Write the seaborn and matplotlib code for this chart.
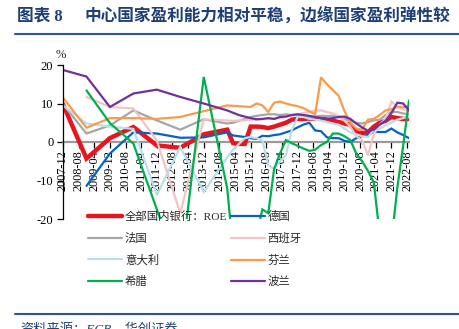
import numpy as np
import pandas as pd
import matplotlib
matplotlib.use("Agg")
import matplotlib.pyplot as plt
import seaborn as sns
from matplotlib.lines import Line2D

# Reporting dates: annual to 2014, quarterly afterwards
annual_periods = ["2007-12", "2008-12", "2009-12", "2010-12", "2011-12",
                  "2012-12", "2013-12", "2014-12"]
quarterly_periods = [f"{y}-{m:02d}" for y in range(2015, 2023) for m in (3, 6, 9, 12)][:31]
periods = annual_periods + quarterly_periods

tick_labels = ["2007-12", "2008-08", "2009-04", "2009-12", "2010-08", "2011-04",
               "2011-12", "2012-08", "2013-04", "2013-12", "2014-08", "2015-04",
               "2015-12", "2016-08", "2017-04", "2017-12", "2018-08", "2019-04",
               "2019-12", "2020-08", "2021-04", "2021-12", "2022-08"]

nan = np.nan
roe_all = [9.8, -4.3, 1.0, 3.9, -0.9, -1.5, 2.0, 3.2,
           -0.3, -0.5, -0.5, 4.0, 4.0, 3.9, 3.6, 4.0, 4.5, 5.0,
           5.8, 6.0, 6.0, 6.1, 6.0, 6.2, 5.8, 5.5, 5.2, 4.8,
           4.5, 2.5, 2.3, 2.5, 4.0, 5.0, 5.5, 6.5, 6.2, 6.0, 6.0]
germany = [nan, -11.4, -3.0, 2.5, 2.2, 1.1, 1.2, 2.5,
           1.7, 1.5, 1.3, 1.0, 0.8, 1.6, 1.5, 1.8, 2.0, 2.5,
           3.0, 3.8, 4.5, 5.0, 3.0, 2.8, 1.2, 1.0, 1.0, 0.3,
           0.0, 1.0, 1.5, 1.8, 2.6, 2.6, 2.6, 3.5, 2.5, 1.8, 1.0]
france = [9.8, 2.2, 4.3, 8.2, 5.6, 3.2, 5.9, 4.8,
          5.0, 5.5, 6.0, 6.5, 6.8, 7.0, 7.2, 7.2, 7.0, 7.2,
          7.0, 7.0, 6.8, 6.5, 6.6, 6.8, 6.7, 6.8, 6.5, 6.0,
          5.5, 5.0, 4.8, 5.2, 5.6, 5.8, 7.0, 7.8, 7.8, 7.4, 7.2]
spain = [nan, 11.7, 9.1, 8.7, 0.4, -18.5, 5.9, 5.6,
         5.5, 5.6, 5.6, 5.8, 5.8, 5.9, 6.0, 6.0, 6.2, 6.5,
         7.0, 7.2, 7.5, 7.8, 8.2, 8.2, 7.8, 7.4, 6.8, 5.5,
         4.0, 1.5, 0.5, -3.5, 2.0, 4.5, 6.0, 10.5, 9.0, 8.5, 8.0]
italy = [9.5, 4.8, 4.0, 3.4, -13.8, -1.3, -13.0, -4.0,
         -2.0, -0.5, 1.0, 1.3, 1.0, 0.4, -6.0, -7.0, -5.0, -3.5,
         3.0, 6.5, 6.5, 6.0, 5.8, 5.6, 5.2, 4.8, 4.5, 3.5,
         2.5, 2.0, 1.5, 1.3, 3.0, 3.5, 4.3, 5.0, 5.8, 6.2, 6.5]
finland = [11.5, 3.7, 6.2, 6.2, 6.0, 6.5, 8.0, 9.5,
           9.4, 9.3, 9.2, 9.1, 10.0, 9.5, 7.8, 10.2, 10.5, 10.0,
           9.6, 9.3, 8.8, 8.0, 7.2, 16.8, 15.0, 13.5, 12.0, 8.0,
           5.0, 3.5, 3.2, 5.8, 6.0, 7.0, 8.2, 8.5, 9.2, 9.0, 9.3]
greece = [nan, 13.4, 4.9, -0.4, -17.5, -34.0, 16.9, -12.0,
          -28.0, -30.0, -30.0, -28.0, -24.0, -17.5, -18.5, -7.0, -3.0, 0.5,
          -0.3, -1.0, -1.7, -2.3, -2.0, -0.8, 0.0, 2.2, 2.2, 1.5,
          0.5, -3.0, -5.0, -7.5, -10.5, -24.0, -30.0, -26.0, -12.0, -1.0, 10.8]
poland = [18.7, 17.0, 9.1, 12.6, 13.6, 11.7, 10.0, 8.2,
          7.6, 7.0, 6.6, 6.2, 5.9, 6.0, 6.2, 6.0, 6.5, 6.6,
          7.0, 7.2, 7.0, 6.8, 6.5, 6.2, 6.0, 6.2, 6.5, 6.6,
          6.0, 4.8, 3.8, 2.9, 3.2, 4.5, 5.5, 7.5, 10.2, 10.0, 8.2]

series = [
    ("全部国内银行：ROE", roe_all, "#E8141E", 3.2),
    ("德国", germany, "#0563C1", 1.6),
    ("法国", france, "#A6A6A6", 1.6),
    ("西班牙", spain, "#F2C4C4", 1.6),
    ("意大利", italy, "#B8DFEA", 1.6),
    ("芬兰", finland, "#FA9A4A", 1.6),
    ("希腊", greece, "#00B04F", 1.6),
    ("波兰", poland, "#7030A0", 1.6),
]


def month_offset(p, base=pd.Period("2007-12", freq="M")):
    return (pd.Period(p, freq="M") - base).n


x_vals = [month_offset(p) for p in periods]
tick_pos = [month_offset(t) for t in tick_labels]

sns.set_theme(style="white")
plt.rcParams["font.family"] = ["Liberation Serif", "Noto Sans CJK SC", "DejaVu Sans"]

fig = plt.figure(figsize=(4.59, 3.29), dpi=100)
ax = fig.add_axes([63 / 459, 1 - 219 / 329, 346 / 459, 154 / 329])

for name, vals, color, lw in series:
    df = pd.DataFrame({"x": x_vals, "y": vals}).dropna()
    sns.lineplot(data=df, x="x", y="y", ax=ax, color=color, linewidth=lw,
                 label=name, legend=False, solid_joinstyle="miter")

ax.set_xlim(0, 177)
ax.set_ylim(-20, 20)
ax.set_xlabel("")
ax.set_ylabel("")

for s in ("top", "right"):
    ax.spines[s].set_visible(False)
ax.spines["left"].set_color("black")
ax.spines["left"].set_linewidth(0.9)
ax.spines["bottom"].set_position(("data", 0))
ax.spines["bottom"].set_color("#9A9A9A")
ax.spines["bottom"].set_linewidth(1.6)
ax.spines["bottom"].set_zorder(1)
ax.tick_params(axis="y", direction="out", length=4, width=0.9, color="black",
               pad=3, left=True, labelcolor="black", labelsize=9)
ax.tick_params(axis="x", direction="out", length=4, width=0.9, color="black",
               pad=2, bottom=True, labelcolor="black", labelsize=8.8,
               labelrotation=90)

ax.set_yticks([20, 10, 0, -10, -20])
ax.set_yticklabels(["20", "10", "0", "-10", "-20"])
ax.set_xticks(tick_pos)
ax.set_xticklabels(tick_labels)
for lab in ax.get_xticklabels():
    lab.set_rotation(90)
    lab.set_va("top")
    lab.set_ha("center")

fig.text(56 / 459, 1 - 55 / 329, "%", fontsize=9, ha="left", va="center")

# legend, filled row by row
handles = [Line2D([], [], color=c, linewidth=lw) for _, _, c, lw in series]
names = [n for n, _, _, _ in series]
order = [0, 2, 4, 6, 1, 3, 5, 7]
fig.legend([handles[i] for i in order], [names[i] for i in order], ncol=2,
           loc="upper left", bbox_to_anchor=(88 / 459, 1 - 211 / 329),
           frameon=False, fontsize=8.2, handlelength=3.0, handletextpad=0.25,
           columnspacing=0.3, labelspacing=0.92, borderpad=0, borderaxespad=0)

# header and footer
navy = "#1F3F77"
fig.text(17 / 459, 1 - 17 / 329, "图表 8", fontsize=12, fontweight="bold",
         color=navy, va="center", ha="left")
fig.text(85 / 459, 1 - 17 / 329, "中心国家盈利能力相对平稳，边缘国家盈利弹性较",
         fontsize=12, fontweight="bold", color=navy, va="center", ha="left")
fig.add_artist(Line2D([15 / 459, 1], [1 - 34 / 329] * 2, color="#2F5496", lw=1.5))
fig.add_artist(Line2D([15 / 459, 1], [1 - 314 / 329] * 2, color="#2F5496", lw=1.5))
fig.text(20 / 459, 1 - 330 / 329, "资料来源：ECB，华创证券", fontsize=9.5,
         color=navy, va="center", ha="left", style="italic")

fig.savefig("out.png", dpi=100)
